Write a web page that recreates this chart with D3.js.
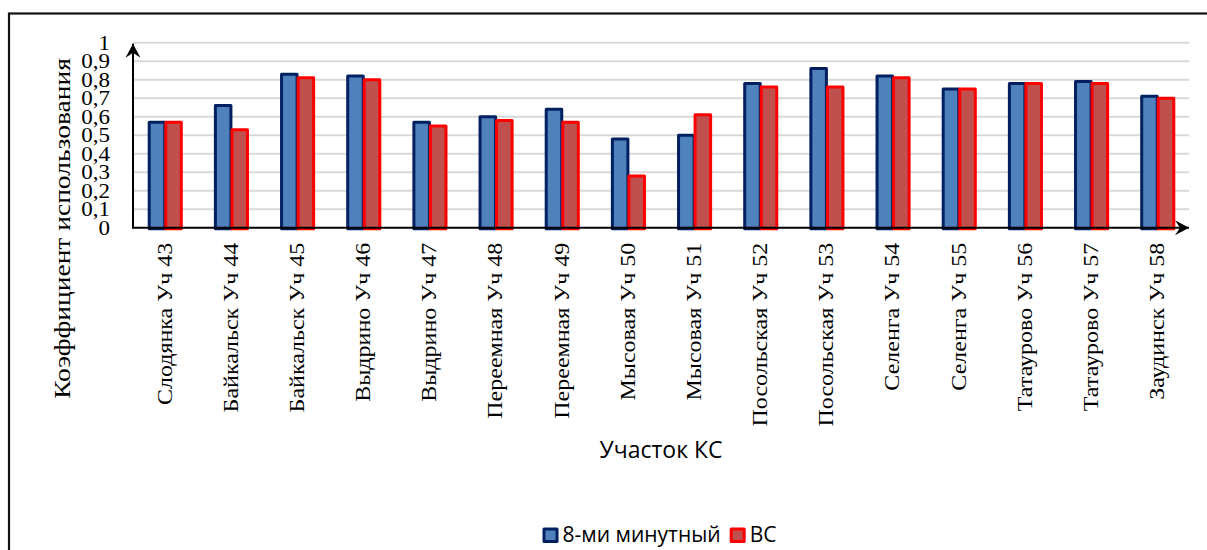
<!DOCTYPE html>
<html>
<head>
<meta charset="utf-8">
<script src="https://cdn.jsdelivr.net/npm/d3@7"></script>
<style>
  body { margin: 0; background: #fff; }
  svg { display: block; }
</style>
</head>
<body>
<div id="chart"></div>
<script>
// data
const categories = ["Слодянка Уч 43", "Байкальск Уч 44", "Байкальск Уч 45", "Выдрино Уч 46",
  "Выдрино Уч 47", "Переемная Уч 48", "Переемная Уч 49", "Мысовая Уч 50", "Мысовая Уч 51",
  "Посольская Уч 52", "Посольская Уч 53", "Селенга Уч 54", "Селенга Уч 55",
  "Татаурово Уч 56", "Татаурово Уч 57", "Заудинск Уч 58"];
const minute8 = [0.57, 0.66, 0.83, 0.82, 0.57, 0.60, 0.64, 0.48, 0.50, 0.78, 0.86, 0.82, 0.75, 0.78, 0.79, 0.71];
const vs = [0.57, 0.53, 0.81, 0.80, 0.55, 0.58, 0.57, 0.28, 0.61, 0.76, 0.76, 0.81, 0.75, 0.78, 0.78, 0.70];
const seriesNames = ["8-ми минутный", "ВС"];
const yTicks = [0, 0.1, 0.2, 0.3, 0.4, 0.5, 0.6, 0.7, 0.8, 0.9, 1];
const yTitle = "Коэффициент использования";
const xTitle = "Участок КС";

const W = 1207, H = 550;
const plotL = 133, plotR = 1189, plotT = 42.7, plotB = 227.7;
const serif = "'Liberation Serif', 'Times New Roman', serif";
const sans = "'Open Sans', sans-serif";

const fills = ["#4f81bd", "#c0504d"];
const strokes = ["#002060", "#ff0000"];

const svg = d3.select("#chart").append("svg")
  .attr("width", W)
  .attr("height", H);

// outer frame
svg.append("rect")
  .attr("x", 9).attr("y", 13.5)
  .attr("width", W + 10).attr("height", H + 10)
  .attr("fill", "none")
  .attr("stroke", "#111")
  .attr("stroke-width", 2.2);

const defs = svg.append("defs");
defs.append("marker")
  .attr("id", "arrow")
  .attr("viewBox", "-14 -8 16 16")
  .attr("refX", 0).attr("refY", 0)
  .attr("markerWidth", 16).attr("markerHeight", 16)
  .attr("markerUnits", "userSpaceOnUse")
  .attr("orient", "auto")
  .append("path")
  .attr("d", "M0,0 L-14,-7.5 L-9,0 L-14,7.5 Z")
  .attr("fill", "#000");

const x0 = d3.scaleBand()
  .domain(categories)
  .range([plotL, plotR])
  .paddingInner(0.5)
  .paddingOuter(0.23);

const x1 = d3.scaleBand()
  .domain([0, 1])
  .range([0, x0.bandwidth()]);

const y = d3.scaleLinear()
  .domain([0, 1])
  .range([plotB, plotT]);

// gridlines
svg.append("g")
  .selectAll("line")
  .data(yTicks.filter(d => d > 0))
  .join("line")
  .attr("x1", plotL).attr("x2", plotR)
  .attr("y1", d => y(d)).attr("y2", d => y(d))
  .attr("stroke", "#d9d9d9")
  .attr("stroke-width", 2);

// bars
const rows = categories.map((c, i) => ({ cat: c, vals: [minute8[i], vs[i]] }));
const groups = svg.append("g")
  .selectAll("g")
  .data(rows)
  .join("g")
  .attr("transform", d => "translate(" + x0(d.cat) + ",0)");

groups.selectAll("rect")
  .data(d => d.vals.map((v, k) => ({ k: k, v: v })))
  .join("rect")
  .attr("x", d => x1(d.k) + 1)
  .attr("width", x1.bandwidth() - 1)
  .attr("y", d => y(d.v))
  .attr("height", d => y(0) - y(d.v) + 1)
  .attr("fill", d => fills[d.k])
  .attr("stroke", d => strokes[d.k])
  .attr("stroke-width", 3)
  .attr("stroke-linejoin", "round");

// y tick labels (the source font is drawn a bit wide)
const yAxis = d3.axisLeft(y)
  .tickValues(yTicks)
  .tickSize(0)
  .tickPadding(20)
  .tickFormat(d => d === 0 ? "0" : d === 1 ? "1" : d3.format(".1f")(d).replace(".", ","));

const gy = svg.append("g")
  .attr("transform", "translate(" + plotL + ",0)")
  .call(yAxis);
gy.select(".domain").remove();
gy.selectAll("text")
  .attr("font-family", serif)
  .attr("font-size", 20)
  .attr("fill", "#000")
  .attr("transform", "scale(1.15,1)");

// x category labels
const gx = svg.append("g")
  .attr("transform", "translate(0," + plotB + ")")
  .call(d3.axisBottom(x0).tickSize(0).tickPadding(0));
gx.select(".domain").remove();
gx.selectAll("text")
  .attr("font-family", serif)
  .attr("font-size", 24)
  .attr("fill", "#000")
  .attr("text-anchor", "end")
  .attr("dy", null)
  .attr("y", null)
  .attr("dominant-baseline", "central")
  .attr("transform", "translate(0,15) rotate(-90) scale(1,0.85)");

// axes with arrows
svg.append("line")
  .attr("x1", plotL).attr("x2", plotR)
  .attr("y1", plotB).attr("y2", plotB)
  .attr("stroke", "#000").attr("stroke-width", 2)
  .attr("marker-end", "url(#arrow)");
svg.append("line")
  .attr("x1", plotL).attr("x2", plotL)
  .attr("y1", plotB + 1).attr("y2", plotT + 1)
  .attr("stroke", "#000").attr("stroke-width", 2)
  .attr("marker-end", "url(#arrow)");

// axis titles
svg.append("text")
  .attr("transform", "translate(62," + ((53 + 404) / 2) + ") rotate(-90) scale(1,0.85)")
  .attr("text-anchor", "middle")
  .attr("dominant-baseline", "central")
  .attr("font-family", serif)
  .attr("font-size", 27.5)
  .text(yTitle);

svg.append("text")
  .attr("x", 661).attr("y", 458)
  .attr("text-anchor", "middle")
  .attr("font-family", sans)
  .attr("font-size", 23)
  .text(xTitle);

// legend
const legend = svg.append("g");
let lx = 0;
seriesNames.forEach((name, k) => {
  const item = legend.append("g").attr("transform", "translate(" + lx + ",0)");
  item.append("rect")
    .attr("x", 1.5).attr("y", -13)
    .attr("width", 13).attr("height", 12.5)
    .attr("fill", fills[k])
    .attr("stroke", strokes[k])
    .attr("stroke-width", 3)
    .attr("stroke-linejoin", "round");
  const t = item.append("text")
    .attr("x", 20).attr("y", 0)
    .attr("font-family", sans)
    .attr("font-size", 21)
    .text(name);
  lx += 20 + t.node().getComputedTextLength() + 9;
});
const lw = lx - 9;
legend.attr("transform", "translate(" + (659.5 - lw / 2) + ",542)");
</script>
</body>
</html>
